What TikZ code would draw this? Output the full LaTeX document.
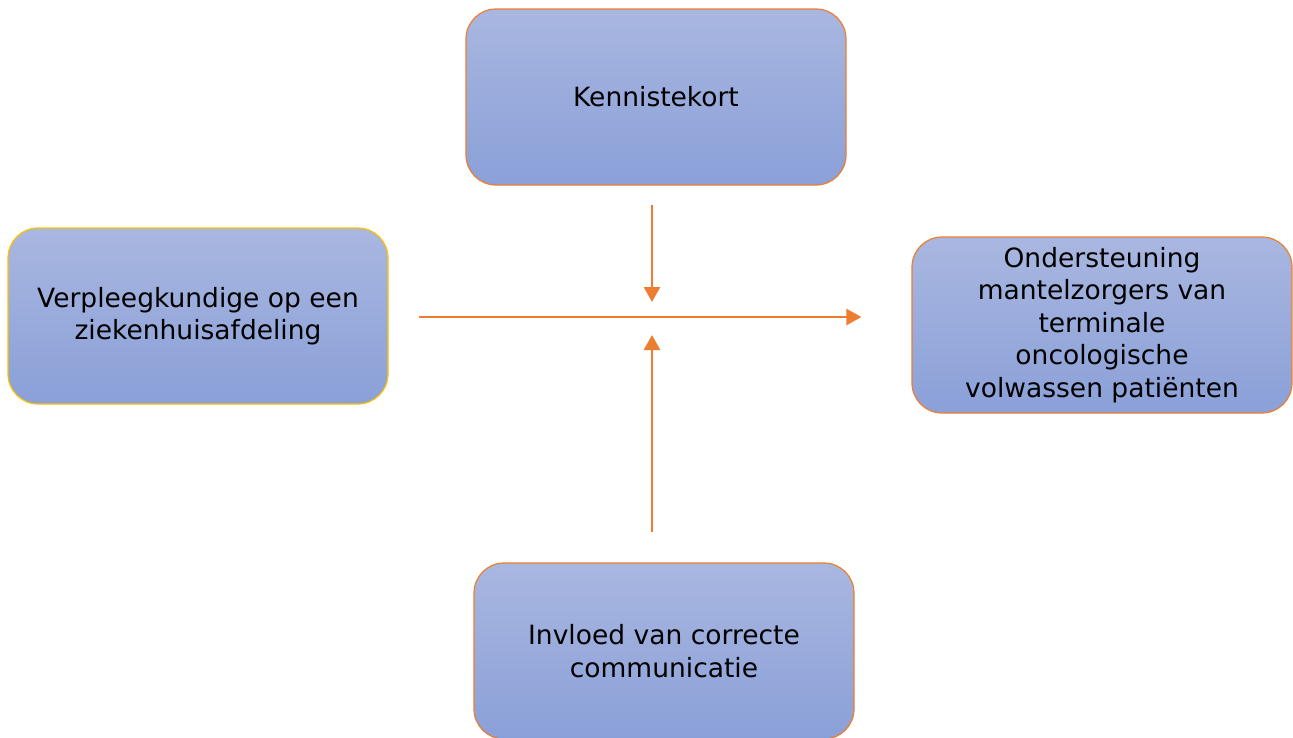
\documentclass[tikz,border=0pt]{standalone}
\usepackage{fontspec}
\setmainfont{DejaVu Sans}
\usetikzlibrary{arrows.meta,positioning}
\definecolor{boxTop}{HTML}{A9B7E0}
\definecolor{boxBottom}{HTML}{8AA0D8}
\definecolor{lineOrange}{HTML}{ED7D31}
\definecolor{lineGold}{HTML}{FFC000}

\begin{document}
\begin{tikzpicture}[x=1pt,y=-1pt,font=\fontsize{26.5}{32.5}\selectfont,
    conceptbox/.style={draw=lineOrange,line width=1.2pt,rounded corners=30pt,
        top color=boxTop,bottom color=boxBottom,minimum width=380pt,
        minimum height=176pt,inner sep=0pt,align=center},
    flow/.style={draw=lineOrange,line width=2.6pt,
        -{Triangle[length=15pt,width=16pt]}}]
  \useasboundingbox (0,0) rectangle (1293,737);
  \node[conceptbox] (kennis) at (656,97) {Kennistekort};
  \node[conceptbox,draw=lineGold] (verpl) at (198,316)
        {Verpleegkundige op een\\ziekenhuisafdeling};
  \node[conceptbox] (onder) at (1102,325)
        {Ondersteuning\\mantelzorgers van\\terminale\\oncologische\\volwassen patiënten};
  \node[conceptbox] (invl) at (664,651) {Invloed van correcte\\communicatie};
  \coordinate (mid) at (652,317);

  \draw[flow,shorten <=30pt,shorten >=50pt] (verpl.east |- mid) -- (onder.west |- mid);
  \draw[flow,shorten <=19pt] (kennis.south -| mid) -- ([yshift=15pt]mid);
  \draw[flow,shorten <=30pt] (invl.north -| mid) -- ([yshift=-18pt]mid);
\end{tikzpicture}
\end{document}
